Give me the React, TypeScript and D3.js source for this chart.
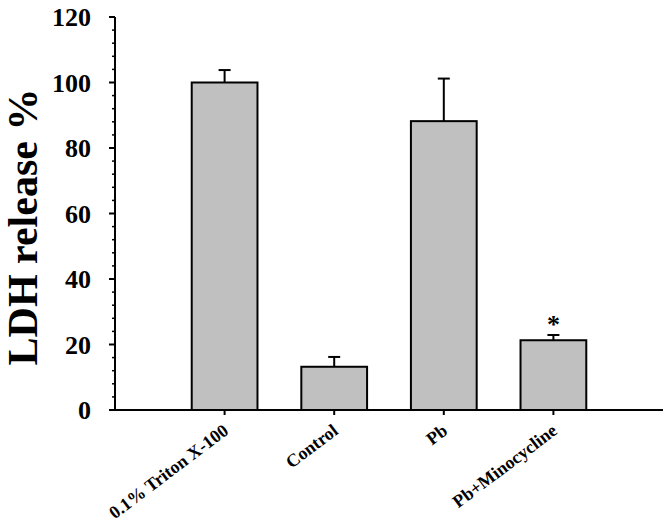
import React from "react";
import * as d3 from "d3";

const categories = ["0.1% Triton X-100", "Control", "Pb", "Pb+Minocycline"];
const values = [100, 13.2, 88.2, 21.3];
const errors = [3.8, 3.0, 13.0, 1.6];
const marks = ["", "", "", "*"];
const yTicks = [0, 20, 40, 60, 80, 100, 120];
const yTitle = "LDH release %";

const W = 671;
const H = 523;
const x0 = 115;
const x1 = 663;
const yBottom = 410;
const yTop = 17;
const font = "'Liberation Serif', 'Times New Roman', serif";

export default function App() {
  const x = d3.scaleLinear().domain([0, categories.length + 1]).range([x0, x1]);
  const y = d3.scaleLinear().domain([0, 120]).range([yBottom, yTop]);
  const step = x(1) - x(0);
  const bw = step * 0.6;
  const minor = d3.range(0, 121, 4).filter((v) => v % 20 !== 0);
  const capW = 12;

  return (
    <svg width={W} height={H} style={{ position: "absolute", left: 0, top: 0 }}>
      <rect x={0} y={0} width={W} height={H} fill="#fff" />
      {categories.map((c, i) => {
        const cx = x(i + 1);
        const top = y(values[i]);
        const et = y(values[i] + errors[i]);
        return (
          <g key={c}>
            <line x1={cx} x2={cx} y1={top} y2={et} stroke="#000" strokeWidth={2} />
            <line x1={cx - capW / 2} x2={cx + capW / 2} y1={et} y2={et} stroke="#000" strokeWidth={2} />
            <rect x={cx - bw / 2} y={top} width={bw} height={yBottom - top} fill="#c0c0c0" stroke="#000" strokeWidth={2} />
            <line x1={cx} x2={cx} y1={yBottom} y2={yBottom + 5} stroke="#000" strokeWidth={2} />
            {marks[i] && (
              <text x={cx} y={et - 2} textAnchor="middle" fontFamily={font} fontWeight="bold" fontSize={26}>
                {marks[i]}
              </text>
            )}
            <text
              transform={`translate(${cx + 5},${yBottom + 23}) rotate(-37)`}
              textAnchor="end"
              fontFamily={font}
              fontWeight="bold"
              fontSize={18}
            >
              {c}
            </text>
          </g>
        );
      })}
      {minor.map((v) => (
        <line key={"m" + v} x1={x0 - 3} x2={x0} y1={y(v)} y2={y(v)} stroke="#000" strokeWidth={1.5} />
      ))}
      {yTicks.map((v) => (
        <g key={v}>
          <line x1={x0 - 6} x2={x0} y1={y(v)} y2={y(v)} stroke="#000" strokeWidth={2} />
          <text x={x0 - 24} y={y(v)} dy="0.35em" textAnchor="end" fontFamily={font} fontWeight="bold" fontSize={26}>
            {v}
          </text>
        </g>
      ))}
      <line x1={x0} x2={x0} y1={yTop} y2={yBottom} stroke="#000" strokeWidth={2} />
      <line x1={x0} x2={x1} y1={yBottom} y2={yBottom} stroke="#000" strokeWidth={2} />
      <text
        transform={`translate(37,${(77 + 377) / 2}) rotate(-90)`}
        textAnchor="middle"
        fontFamily={font}
        fontWeight="bold"
        fontSize={42}
      >
        {yTitle}
      </text>
    </svg>
  );
}
